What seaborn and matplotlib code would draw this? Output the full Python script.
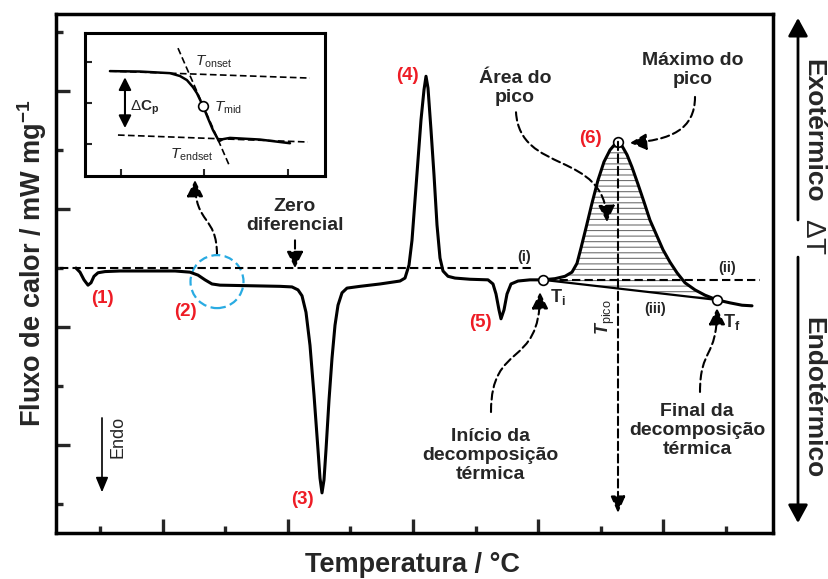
import numpy as np
import matplotlib
matplotlib.use('Agg')
import matplotlib.pyplot as plt
import seaborn as sns
from matplotlib.path import Path
from matplotlib.patches import FancyArrowPatch, Ellipse

# DSC curve (arbitrary temperature / heat-flow units)
temperature = [
    30.4, 33.6, 36.8, 40.0, 42.4, 44.8, 48.0, 53.6, 65.6, 89.6,
    109.6, 121.6, 128.0, 133.6, 139.2, 145.6, 169.6, 193.6, 203.2, 208.0,
    211.2, 214.4, 217.6, 220.8, 224.0, 225.6, 227.2, 228.8, 230.4, 232.8,
    235.2, 237.6, 240.0, 243.2, 247.2, 257.6, 273.6, 289.6, 293.6, 296.8,
    299.2, 301.6, 304.0, 306.4, 308.8, 310.4, 312.0, 314.4, 316.8, 319.2,
    321.6, 324.0, 328.0, 333.6, 345.6, 360.0, 364.0, 366.4, 368.8, 370.4,
    372.8, 375.2, 378.4, 384.0, 393.6, 404.0, 413.6, 421.6, 427.2, 431.2,
    434.4, 438.4, 443.2, 448.0, 452.8, 457.6, 461.6, 464.0, 467.2, 471.2,
    475.2, 480.0, 484.8, 489.6, 494.4, 500.0, 505.6, 511.2, 517.6, 525.6,
    533.6, 543.2, 553.6, 563.2, 571.2]
heat_flow = [
    0.00, -0.07, -0.20, -0.29, -0.25, -0.14, -0.08, -0.06, -0.05, -0.05,
    -0.05, -0.07, -0.12, -0.20, -0.27, -0.29, -0.30, -0.31, -0.32, -0.37,
    -0.47, -0.75, -1.31, -2.15, -3.08, -3.56, -3.81, -3.59, -3.08, -2.24,
    -1.53, -0.97, -0.63, -0.42, -0.34, -0.31, -0.27, -0.22, -0.17, 0.05,
    0.47, 1.15, 1.83, 2.51, 3.02, 3.25, 3.05, 2.34, 1.58, 0.73,
    0.17, -0.05, -0.14, -0.17, -0.19, -0.20, -0.27, -0.44, -0.71, -0.86,
    -0.71, -0.44, -0.27, -0.22, -0.20, -0.20, -0.18, -0.14, -0.07, 0.08,
    0.34, 0.68, 1.10, 1.49, 1.80, 2.00, 2.10, 2.14, 2.07, 1.92,
    1.71, 1.42, 1.12, 0.81, 0.58, 0.31, 0.10, -0.08, -0.25, -0.37,
    -0.46, -0.54, -0.59, -0.63, -0.64]

# characteristic points of the decomposition peak
t_i, flow_i = 404.0, -0.20
t_f, flow_f = 543.2, -0.54
t_pico, flow_pico = 464.0, 2.14

# inset: glass transition step
inset_x = [0.868, 1.228, 1.587, 1.707, 1.790, 1.862, 1.910, 1.982, 2.042, 2.102,
           2.174, 2.222, 2.305, 2.665, 3.024]
inset_y = [2.78, 2.77, 2.73, 2.66, 2.56, 2.39, 2.24, 1.93, 1.63, 1.34,
           1.07, 1.12, 1.15, 1.11, 1.02]
t_mid, flow_mid = 1.982, 1.93
upper_base_x, upper_base_y = [0.868, 3.263], [2.78, 2.61]
lower_base_x, lower_base_y = [0.964, 3.239], [1.22, 1.05]
tangent_x, tangent_y = [1.683, 2.305], [3.34, 0.44]

sns.set_theme(style='ticks')
plt.rcParams['font.family'] = ['Liberation Sans', 'DejaVu Sans']
plt.rcParams['mathtext.fontset'] = 'custom'
plt.rcParams['mathtext.rm'] = 'Liberation Sans'
plt.rcParams['mathtext.it'] = 'Liberation Sans:italic'
plt.rcParams['mathtext.bf'] = 'Liberation Sans:bold'
plt.rcParams['mathtext.sf'] = 'Liberation Sans:italic:bold'
plt.rcParams['hatch.linewidth'] = 0.8

RED = '#ee1c25'
DASH = (0, (4, 2))

fig = plt.figure(figsize=(8.29, 5.79), dpi=100)
ax = fig.add_axes([0.06755, 0.07945, 0.8649, 0.89637])

sns.lineplot(x=temperature, y=heat_flow, sort=False, color='black', lw=2.2, ax=ax)

temp = np.array(temperature)
flow = np.array(heat_flow)
seg = (temp >= t_i) & (temp <= t_f)
base = np.interp(temp[seg], [t_i, t_f], [flow_i, flow_f])
ax.fill_between(temp[seg], flow[seg], base, facecolor='none', edgecolor='#707070',
                hatch='---', linewidth=0)
ax.plot([t_i, t_f], [flow_i, flow_f], color='black', lw=1.6)

# baselines
ax.plot([17.6, 396], [0, 0], color='black', lw=1.5, ls=DASH)
ax.plot([407, 577.6], [flow_i, flow_i], color='black', lw=1.5, ls=DASH)
ax.annotate('', xy=(t_pico, -4.15), xytext=(t_pico, flow_pico),
            arrowprops=dict(arrowstyle='-|>,head_length=0.5,head_width=0.22', mutation_scale=20,
                            color='black', lw=1.5, ls=DASH, shrinkA=0, shrinkB=0))

ax.plot([t_i, t_f, t_pico], [flow_i, flow_f, flow_pico], ls='none', marker='o', ms=7,
        mfc='white', mec='black', mew=1.2)

ax.set_xlim(14.4, 588.0)
ax.set_ylim(-4.49, 4.305)
ax.set_xticks([100, 200, 300, 400, 500])
ax.set_xticks([50, 150, 250, 350, 450, 550], minor=True)
ax.set_yticks([-3, -1, 1, 3])
ax.set_yticks([-4, -2, 0, 2, 4], minor=True)
ax.tick_params(which='both', direction='in', width=2.4, labelbottom=False, labelleft=False,
               top=False, right=False, bottom=True, left=True)
ax.tick_params(which='major', length=10)
ax.tick_params(which='minor', length=5)
for s in ax.spines.values():
    s.set_linewidth(2.5)
    s.set_color('black')

ax.set_xlabel('Temperatura / °C', fontsize=19.5, fontweight='bold')
ax.set_ylabel(r'Fluxo de calor / mW mg$^{\mathbf{-1}}$', fontsize=19.5, fontweight='bold')
ax.xaxis.set_label_coords(0.4965, -0.0617)
ax.xaxis.label.set_va('center')
ax.yaxis.set_label_coords(-0.0335, 0.52)
ax.yaxis.label.set_va('center')

# numbered events
for lbl, x, y in [('(1)', 51.2, -0.51), ('(2)', 117.6, -0.73), ('(3)', 211.2, -3.93),
                  ('(4)', 295.2, 3.27), ('(5)', 353.6, -0.93), ('(6)', 441.6, 2.19)]:
    ax.text(x, y, lbl, color=RED, fontsize=13.5, fontweight='bold', ha='center', va='center')
for lbl, x, y in [('(i)', 388.8, 0.19), ('(ii)', 551.2, 0.0), ('(iii)', 493.6, -0.69)]:
    ax.text(x, y, lbl, fontsize=10.5, fontweight='bold', ha='center', va='center')

ax.text(416, -0.49, r'$\mathbf{T}_{\mathbf{i}}$', fontsize=13, ha='center', va='center')
ax.text(555.2, -0.92, r'$\mathbf{T}_{\mathbf{f}}$', fontsize=13, ha='center', va='center')
ax.text(453.6, -0.83, r'$\mathsf{T}_{\rm pico}$', fontsize=13, rotation=90, ha='center', va='center')

txt = dict(fontsize=14, fontweight='bold', ha='center', va='center', linespacing=1.15)
ax.text(361.6, -3.17, 'Início da\ndecomposição\ntérmica', **txt)
ax.text(527.2, -2.76, 'Final da\ndecomposição\ntérmica', **txt)
ax.text(381.6, 3.05, 'Área do\npico', **txt)
ax.text(524.0, 3.36, 'Máximo do\npico', **txt)
ax.text(205.6, 0.88, 'Zero\ndiferencial', **txt)

ax.text(64, -2.86, 'Endo', fontsize=13, rotation=90, ha='center', va='center')
ax.annotate('', xy=(51.2, -3.80), xytext=(51.2, -2.54),
            arrowprops=dict(arrowstyle='-|>,head_length=0.6,head_width=0.25', mutation_scale=15,
                            color='black', lw=1.2, shrinkA=0, shrinkB=0))

ax.annotate('', xy=(205.6, 0.0), xytext=(205.6, 0.47),
            arrowprops=dict(arrowstyle='-|>,head_length=0.5,head_width=0.25', mutation_scale=20,
                            color='black', lw=1.5, ls=DASH, shrinkA=0, shrinkB=0))


def curved_arrow(pts):
    path = Path(pts, [Path.MOVETO, Path.CURVE4, Path.CURVE4, Path.CURVE4])
    ax.add_patch(FancyArrowPatch(path=path, arrowstyle='-|>,head_length=0.5,head_width=0.25',
                                 mutation_scale=20, color='black', lw=1.5, ls=DASH))


curved_arrow([(362.4, -2.44), (362.4, -1.22), (401.6, -1.73), (401.6, -0.41)])
curved_arrow([(529.6, -2.10), (529.6, -1.35), (543.2, -1.53), (543.2, -0.68)])
curved_arrow([(382.4, 2.64), (385.6, 1.58), (453.6, 2.00), (455.2, 0.78)])
curved_arrow([(525.6, 2.90), (525.6, 2.34), (505.6, 2.17), (473.6, 2.12)])
curved_arrow([(143.2, 0.22), (143.2, 0.90), (125.6, 0.73), (125.6, 1.49)])

ax.add_patch(Ellipse((143.2, -0.23), 42.4, 0.898, fill=False, ec='#29abe2', lw=1.6, ls=DASH))

# right-hand ΔT scale
ax.annotate('', xy=(0.9626, 0.969), xytext=(0.9626, 0.62), xycoords='figure fraction',
            arrowprops=dict(arrowstyle='-|>,head_length=0.55,head_width=0.3', mutation_scale=20,
                            color='black', lw=2, shrinkA=0, shrinkB=0))
ax.annotate('', xy=(0.9626, 0.0967), xytext=(0.9626, 0.556), xycoords='figure fraction',
            arrowprops=dict(arrowstyle='-|>,head_length=0.55,head_width=0.3', mutation_scale=20,
                            color='black', lw=2, shrinkA=0, shrinkB=0))
fig.text(0.9807, 0.774, 'Exotérmico', fontsize=19, fontweight='bold', rotation=270,
         ha='center', va='center')
fig.text(0.9807, 0.591, r'$\Delta$T', fontsize=20, rotation=270, ha='center', va='center')
fig.text(0.9807, 0.314, 'Endotérmico', fontsize=19, fontweight='bold', rotation=270,
         ha='center', va='center')

# inset
axi = fig.add_axes([0.1025, 0.696, 0.2895, 0.247])
axi.set_facecolor('white')
sns.lineplot(x=inset_x, y=inset_y, sort=False, color='black', lw=1.8, ax=axi)
axi.plot(upper_base_x, upper_base_y, color='black', lw=1.2, ls=DASH)
axi.plot(lower_base_x, lower_base_y, color='black', lw=1.2, ls=DASH)
axi.plot(tangent_x, tangent_y, color='black', lw=1.2, ls=DASH)
axi.plot([t_mid], [flow_mid], ls='none', marker='o', ms=7, mfc='white', mec='black', mew=1.2)
axi.annotate('', xy=(1.048, 1.39), xytext=(1.048, 2.63),
             arrowprops=dict(arrowstyle='<|-|>,head_length=0.5,head_width=0.25', mutation_scale=15,
                             color='black', lw=1.5, shrinkA=0, shrinkB=0))
axi.text(1.108, 1.88, r'$\Delta\mathbf{C}_{\mathbf{p}}$', fontsize=11, ha='left', va='center')
axi.text(1.886, 3.0, r'$T_{\rm onset}$', fontsize=11, ha='left', va='center')
axi.text(2.114, 1.88, r'$T_{\rm mid}$', fontsize=11, ha='left', va='center')
axi.text(1.587, 0.73, r'$T_{\rm endset}$', fontsize=11, ha='left', va='center')
axi.set_xlim(0.569, 3.443)
axi.set_ylim(0.22, 3.71)
axi.set_xticks([1, 2, 3])
axi.set_yticks([1, 2, 3])
axi.tick_params(direction='in', length=5, width=1.5, labelbottom=False, labelleft=False,
                top=False, right=False, bottom=True, left=True)
for s in axi.spines.values():
    s.set_linewidth(2.2)
    s.set_color('black')

fig.savefig('out.png', dpi=100)
